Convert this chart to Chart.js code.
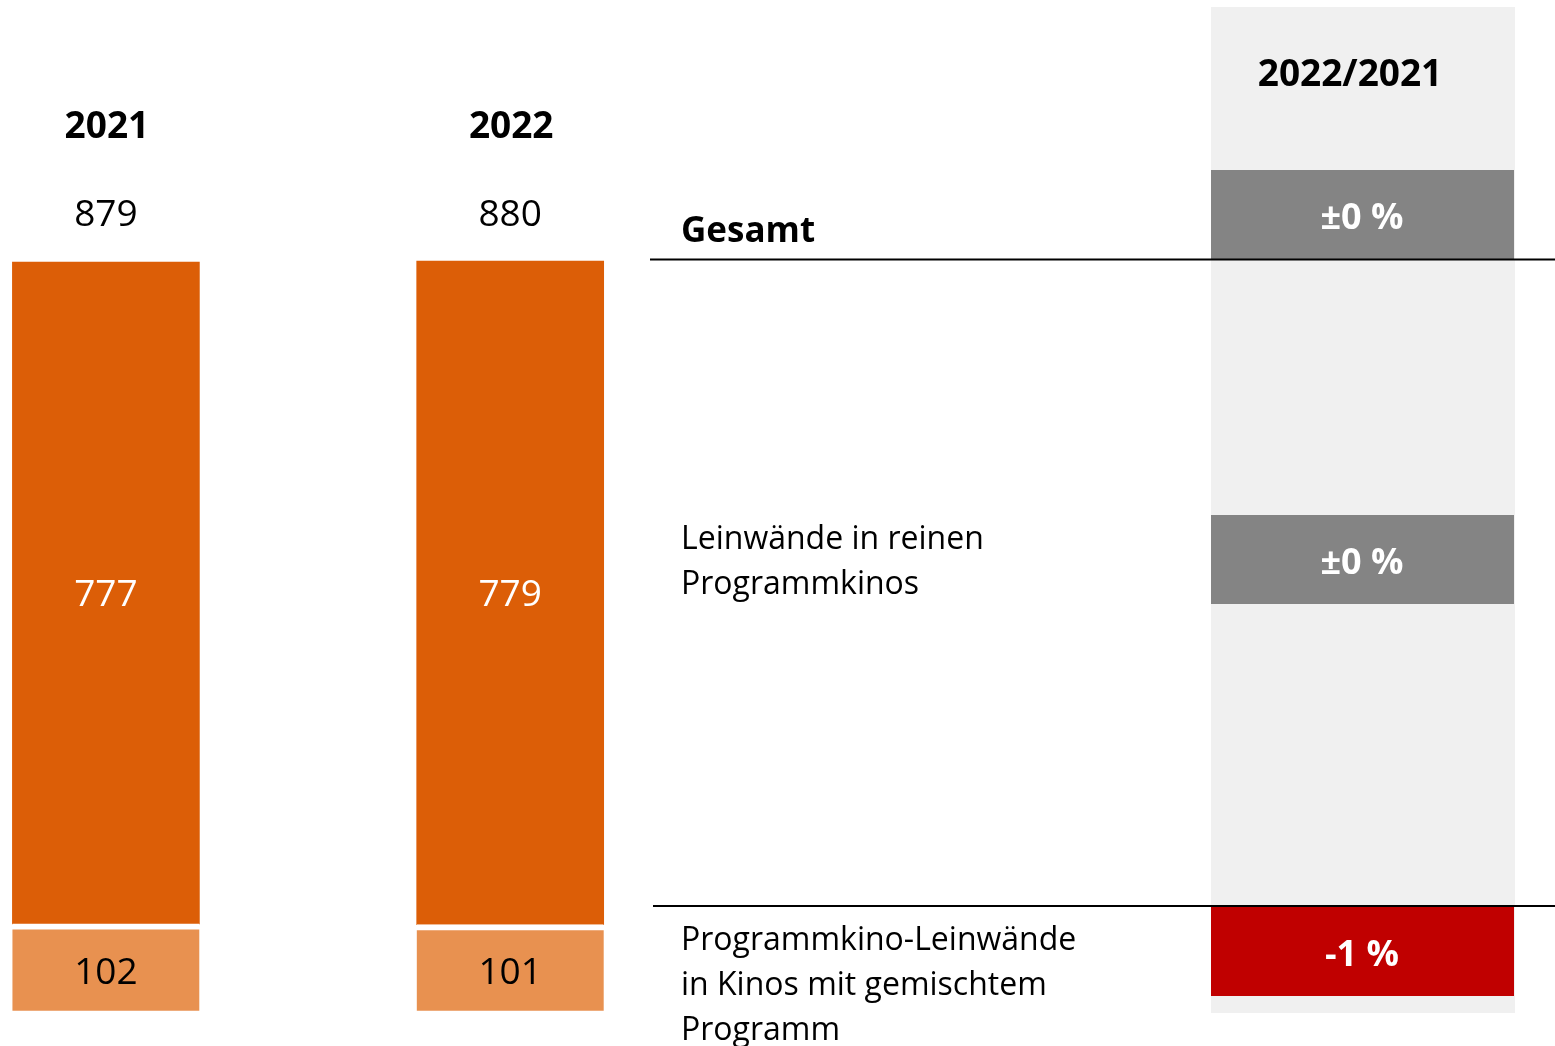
<!DOCTYPE html>
<html><head><meta charset="utf-8">
<script src="https://cdn.jsdelivr.net/npm/chart.js@4/dist/chart.umd.min.js"></script>
<style>html,body{margin:0;padding:0;background:#fff;overflow:hidden;} #wrap{width:1555px;height:1046px;position:relative;}</style>
</head><body><div id="wrap"><canvas id="c" width="1555" height="1046"></canvas></div>
<script>
// ---- data ----
const years = ["2021", "2022"];
const programmkinoScreens = [777, 779];
const mixedScreens = [102, 101];
const totals = [879, 880];
const changeHeader = "2022/2021";
const rowLabels = [
  ["Gesamt"],
  ["Leinwände in reinen", "Programmkinos"],
  ["Programmkino-Leinwände", "in Kinos mit gemischtem", "Programm"]
];
const changeLabels = ["±0 %", "±0 %", "-1 %"];
const changeColors = ["#848484", "#848484", "#C00000"];

// ---- style ----
const FONT = '"Open Sans", "Noto Sans", sans-serif';
const DARK = '#DC5E07';
const LIGHT = '#E89150';

const panelPlugin = {
  id: 'panel',
  beforeDraw(chart) {
    const ctx = chart.ctx;
    ctx.save();
    ctx.fillStyle = '#F0F0F0';
    ctx.fillRect(1211, 7, 304, 1006);
    ctx.restore();
  },
  afterDraw(chart) {
    const ctx = chart.ctx;
    const xs = chart.scales.x;
    ctx.save();
    ctx.textAlign = 'center';
    ctx.textBaseline = 'middle';
    // year headers and totals
    years.forEach((yr, i) => {
      const x = xs.getPixelForValue(i);
      ctx.fillStyle = '#000';
      ctx.font = 'bold 37px ' + FONT;
      ctx.fillText(yr, x + 1, 127);
      ctx.font = '37px ' + FONT;
      ctx.fillText(String(totals[i]), x, 215);
    });
    // segment values
    const m0 = chart.getDatasetMeta(0), m1 = chart.getDatasetMeta(1);
    m0.data.forEach((el, i) => {
      ctx.fillStyle = '#000';
      ctx.font = '37px ' + FONT;
      ctx.fillText(String(mixedScreens[i]), el.x, (el.y + 6 + el.base) / 2 + 3);
    });
    m1.data.forEach((el, i) => {
      ctx.fillStyle = '#fff';
      ctx.font = '37px ' + FONT;
      ctx.fillText(String(programmkinoScreens[i]), el.x, (el.y + el.base) / 2 + 3);
    });
    // right panel header
    ctx.fillStyle = '#000';
    ctx.font = 'bold 37px ' + FONT;
    ctx.fillText(changeHeader, 1350, 75);
    // change boxes
    const boxTops = [170, 515, 907];
    boxTops.forEach((t, i) => {
      ctx.fillStyle = changeColors[i];
      ctx.fillRect(1211, t, 303, 89);
      ctx.fillStyle = '#fff';
      ctx.font = 'bold 36px ' + FONT;
      ctx.fillText(changeLabels[i], 1362, t + 49);
    });
    // row labels
    ctx.textAlign = 'left';
    ctx.textBaseline = 'alphabetic';
    ctx.fillStyle = '#000';
    ctx.font = 'bold 35px ' + FONT;
    ctx.fillText(rowLabels[0][0], 681, 242);
    ctx.font = '32px ' + FONT;
    rowLabels[1].forEach((l, k) => ctx.fillText(l, 681, 549 + k * 45));
    rowLabels[2].forEach((l, k) => ctx.fillText(l, 681, 950 + k * 45));
    // separator lines
    ctx.strokeStyle = '#000';
    ctx.lineWidth = 2;
    ctx.beginPath();
    ctx.moveTo(650, 259.5); ctx.lineTo(1555, 259.5);
    ctx.moveTo(653, 906); ctx.lineTo(1555, 906);
    ctx.stroke();
    ctx.restore();
  }
};

new Chart(document.getElementById('c'), {
  type: 'bar',
  data: {
    labels: years,
    datasets: [
      { label: 'Programmkino-Leinwände in Kinos mit gemischtem Programm', data: mixedScreens,
        backgroundColor: LIGHT, borderColor: '#fff',
        borderWidth: { top: 6, left: 0, right: 0, bottom: 0 }, borderSkipped: false, clip: false },
      { label: 'Leinwände in reinen Programmkinos', data: programmkinoScreens,
        backgroundColor: DARK, borderWidth: 0, clip: false }
    ]
  },
  options: {
    responsive: false,
    animation: false,
    devicePixelRatio: 1,
    barThickness: 187,
    layout: { padding: { left: 105.9, right: 1044.8, top: 158.9, bottom: 35.3 } },
    plugins: { legend: { display: false }, tooltip: { enabled: false } },
    scales: {
      x: { type: 'category', stacked: true, display: false, offset: false, grid: { display: false } },
      y: { stacked: true, display: false, min: 0, max: 1000 }
    }
  },
  plugins: [panelPlugin]
});
</script>
</body></html>
